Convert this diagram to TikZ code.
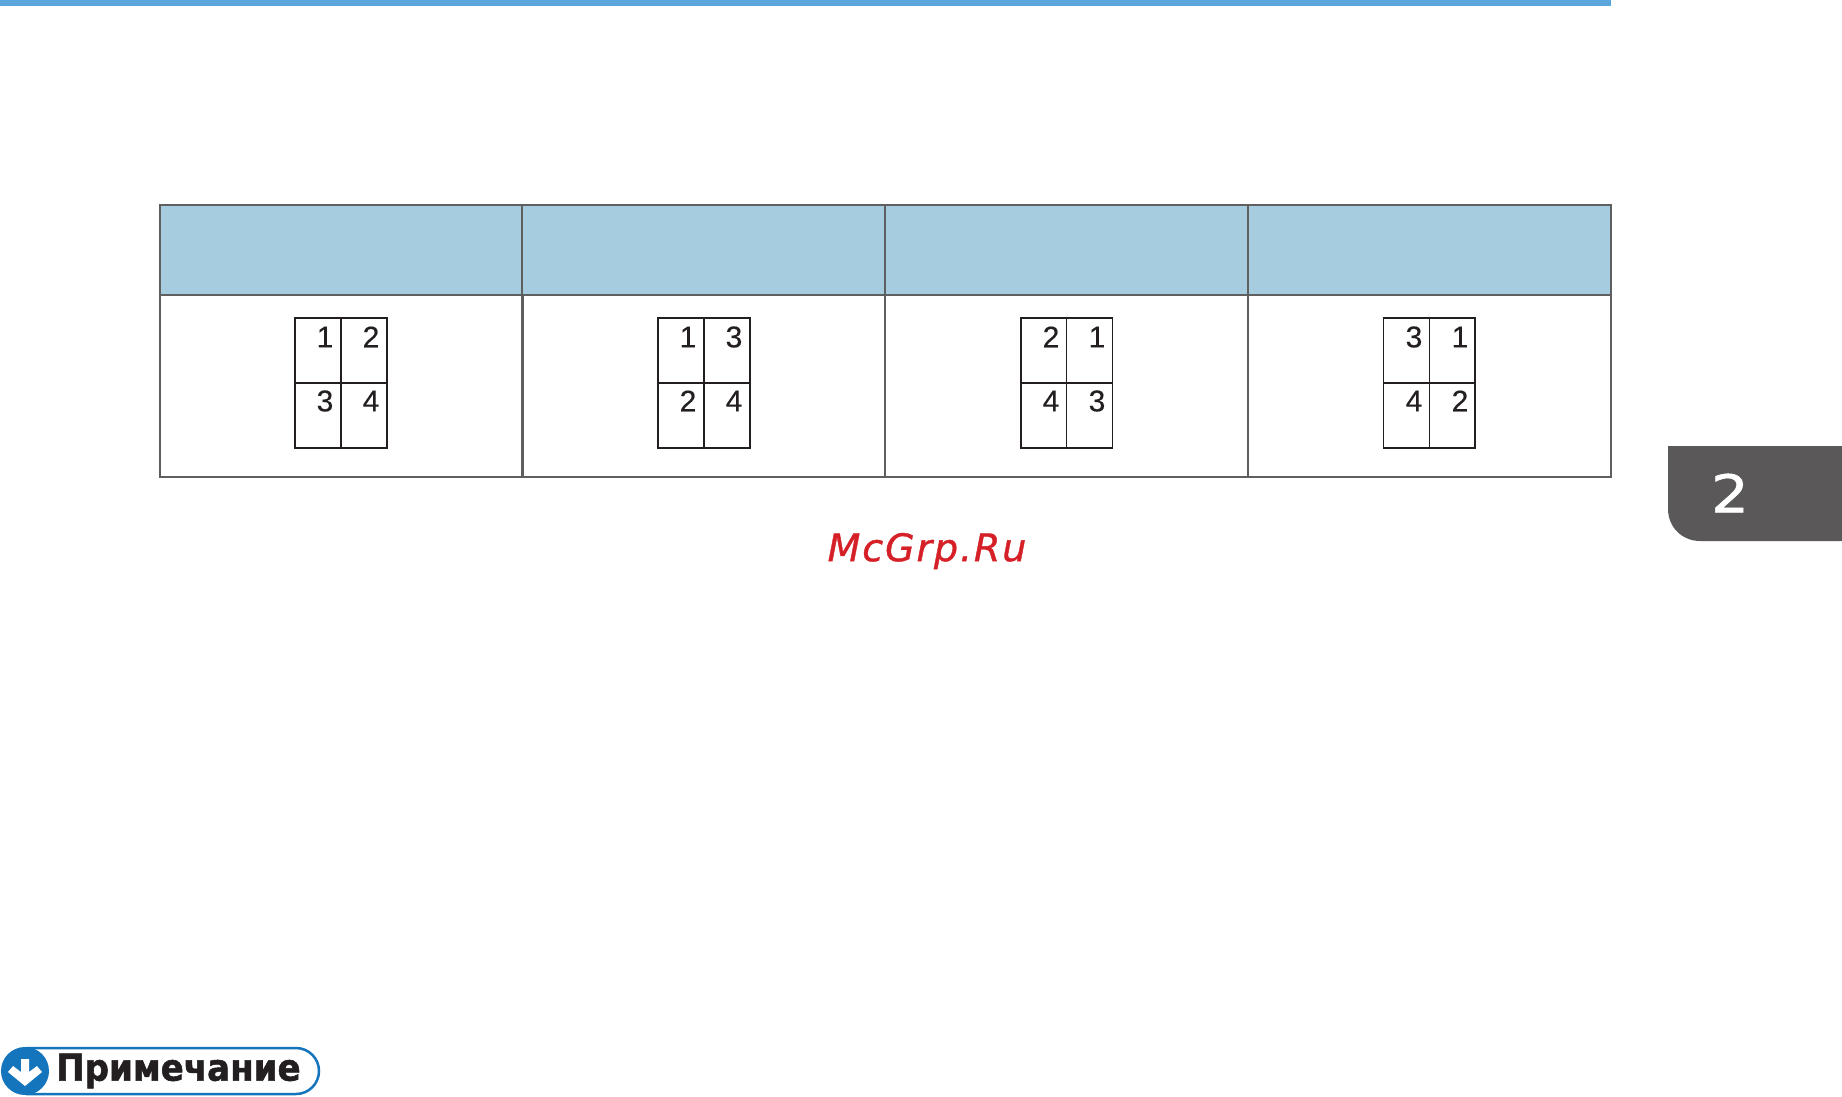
\documentclass[tikz,border=0pt]{standalone}
\usepackage{fontspec}
\setmainfont{Liberation Sans}
\newfontfamily\markfont{DejaVu Sans}
\definecolor{topblue}{HTML}{5AA5DC}
\definecolor{headblue}{HTML}{A6CDDF}
\definecolor{rulegray}{HTML}{5F5F5F}
\definecolor{tabgray}{HTML}{5B5859}
\definecolor{notedark}{HTML}{231F20}
\definecolor{noteblue}{HTML}{1575BC}
\definecolor{markred}{HTML}{D62027}
\tikzset{
  x=1pt,y=-1pt,
  headcell/.style={draw=rulegray,line width=2pt,fill=headblue,minimum width=362.75pt,minimum height=90pt,inner sep=0pt},
  bodycell/.style={draw=rulegray,line width=2pt,minimum width=362.75pt,minimum height=182pt,inner sep=0pt},
  sheetline/.style={draw=notedark,line width=1.5pt},
  digit/.style={inner sep=0pt,text=notedark,font=\addfontfeatures{FakeBold=.3}\fontsize{30}{30}\selectfont}
}
\begin{document}
\begin{tikzpicture}
  \useasboundingbox (0,0) rectangle (1842,1096);
  \fill[topblue] (0,0) rectangle (1611,6);
  \node[headcell] (head1) at (341.2,250) {};
  \node[headcell] (head2) at (703.8,250) {};
  \node[headcell] (head3) at (1066.5,250) {};
  \node[headcell] (head4) at (1429.4,250) {};
  \node[bodycell] (body1) at (341.2,386) {};
  \node[bodycell] (body2) at (703.8,386) {};
  \node[bodycell] (body3) at (1066.5,386) {};
  \node[bodycell] (body4) at (1429.4,386) {};
  % left to right, then top to bottom
  \draw[sheetline] (295,318) rectangle (387,448);
  \draw[sheetline] (295,383) -- (387,383);
  \draw[sheetline,line width=2pt] (341,318) -- (341,448);
  \draw (325,337) node[digit] (s11){1}
        (371,337) node[digit] (s12){2}
        (325,401) node[digit] (s13){3}
        (371,401) node[digit] (s14){4};
  \draw[sheetline] (658,318) rectangle (750,448);
  \draw[sheetline] (658,383) -- (750,383);
  \draw[sheetline,line width=2pt] (704,318) -- (704,448);
  \draw (688,337) node[digit] (s21){1}
        (734,337) node[digit] (s22){3}
        (688,401) node[digit] (s23){2}
        (734,401) node[digit] (s24){4};
  \draw[sheetline] (1021,318) rectangle (1112.5,448);
  \draw[sheetline] (1021,383) -- (1112.5,383);
  \draw[sheetline,line width=.8pt] (1066.5,318) -- (1066.5,448);
  \draw (1051,337) node[digit] (s31){2}
        (1097,337) node[digit] (s32){1}
        (1051,401) node[digit] (s33){4}
        (1097,401) node[digit] (s34){3};
  \draw[sheetline] (1383.5,318) rectangle (1475,448);
  \draw[sheetline] (1383.5,383) -- (1475,383);
  \draw[sheetline,line width=.8pt] (1429.5,318) -- (1429.5,448);
  \draw (1414,337) node[digit] (s41){3}
        (1460,337) node[digit] (s42){1}
        (1414,401) node[digit] (s43){4}
        (1460,401) node[digit] (s44){2};
  % chapter tab
  \fill[tabgray] (1842,446) -- (1668,446) -- (1668,509) .. controls (1668,527) and (1682,541) .. (1700,541) -- (1842,541) -- cycle;
  \node[text=white,inner sep=0pt,xscale=1.15,transform shape,font=\markfont\addfontfeatures{FakeBold=1}\fontsize{52}{52}\selectfont] (tabnum) at (1730,493) {2};
  \node[text=markred,inner sep=0pt,font=\markfont\itshape\addfontfeatures{LetterSpace=5,FakeBold=1}\fontsize{38}{38}\selectfont] (mark) at (927,551) {McGrp.Ru};
  % note badge
  \draw[noteblue,line width=2.5pt,fill=white] (26,1048) -- (296,1048) arc[start angle=90,end angle=-90,x radius=23,y radius=-23] -- (26,1094);
  \fill[noteblue] (25,1071) circle[radius=24];
  \fill[white] (21,1059) -- (29,1059) -- (29,1072) -- (37,1066) -- (42,1072) -- (25,1086) -- (8,1072) -- (13,1066) -- (21,1072) -- cycle;
  \node[anchor=west,text=notedark,inner sep=0pt,xscale=.92,transform shape,font=\markfont\bfseries\addfontfeatures{FakeBold=1.5}\fontsize{37}{37}\selectfont] (note) at (56,1071) {Примечание};
\end{tikzpicture}
\end{document}
